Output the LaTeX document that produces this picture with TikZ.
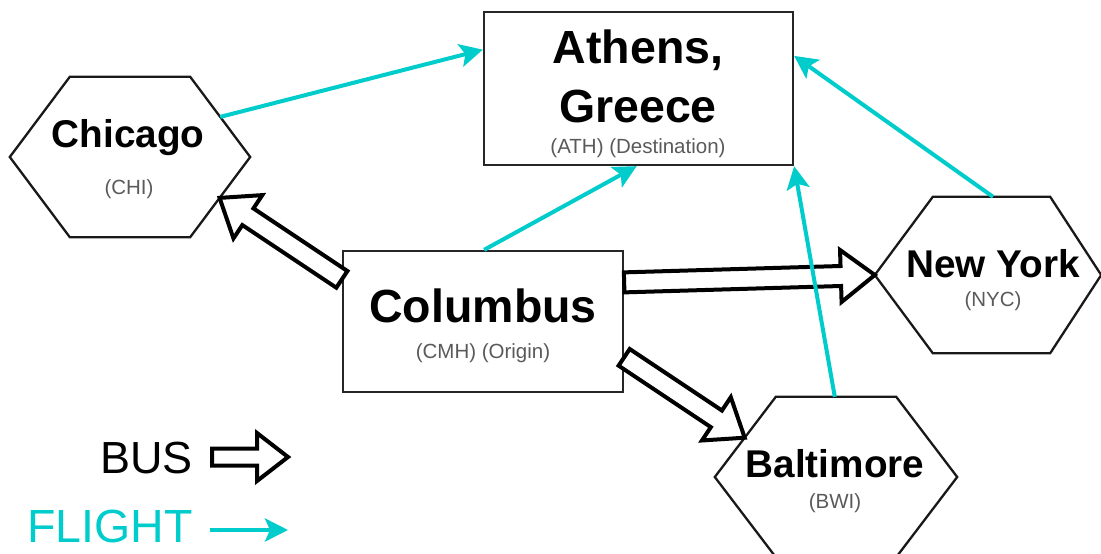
\documentclass[tikz,border=0pt]{standalone}
\usepackage{fontspec}
\setmainfont{Liberation Sans}
\usetikzlibrary{calc,arrows.meta}
\definecolor{flightc}{HTML}{00CCCC}
\definecolor{subgray}{HTML}{5A5A5A}

% hexagon: name, center, width, height, left inset, right inset
\newcommand\hexshape[6]{%
  \node[hexbox, minimum width=#3, minimum height=#4] (#1) at (#2) {};
  \coordinate (#1-nw) at ($(#1.north west)+(#5,0)$);
  \coordinate (#1-ne) at ($(#1.north east)+(-#6,0)$);
  \coordinate (#1-sw) at ($(#1.south west)+(#5,0)$);
  \coordinate (#1-se) at ($(#1.south east)+(-#6,0)$);
  \draw[hexline] (#1.west) -- (#1-nw) -- (#1-ne) -- (#1.east) -- (#1-se) -- (#1-sw) -- cycle;}

% block arrow: from, to, shaft half width, head half width, head length
\newcommand\busarrow[5]{%
  \coordinate (bah) at ($(#2)!#5!(#1)$);
  \path[busline] ($(#1)!#3!90:(#2)$) -- ($(bah)!#3!-90:(#1)$) -- ($(bah)!#4!-90:(#1)$)
    -- (#2) -- ($(bah)!#4!90:(#1)$) -- ($(bah)!#3!90:(#1)$) -- ($(#1)!#3!-90:(#2)$) -- cycle;}

\begin{document}
\begin{tikzpicture}[x=1pt,y=-1pt,
  rectbox/.style={draw=black!85,line width=2.3pt,fill=white,inner sep=0pt},
  hexbox/.style={draw=none,inner sep=0pt},
  hexline/.style={draw=black!90,line width=2.3pt,line join=miter},
  bigtitle/.style={font={\fontsize{46.5}{50}\selectfont\bfseries}, inner sep=0pt, anchor=base},
  hextitle/.style={font={\fontsize{38.7}{42}\selectfont\bfseries}, inner sep=0pt, anchor=base},
  subtext/.style={font={\fontsize{20.5}{24}\selectfont}, text=subgray, inner sep=0pt, anchor=base},
  busline/.style={draw=black, line width=4pt, fill=white, line join=miter},
  flight/.style={draw=flightc, line width=4pt, -{Stealth[length=23pt,width=23pt,inset=5pt]}},
  legend/.style={font={\fontsize{45}{48}\selectfont}, inner sep=0pt, anchor=base east}
]
\useasboundingbox (0,0) rectangle (1101,554);
\clip (0,0) rectangle (1101,554);

% boxes
\node[rectbox, minimum width=309pt, minimum height=153pt] (ath) at (638.5,88.5) {};
\node[rectbox, minimum width=280pt, minimum height=141pt] (col) at (483,321.5) {};
\hexshape{chi}{130,157}{240pt}{160pt}{60}{60}
\hexshape{ny}{988,275}{226pt}{156pt}{58}{51}
\hexshape{bwi}{836,477}{242pt}{160pt}{61}{61}

% texts
\node[bigtitle] (ath-t1) at (638,63) {Athens,};
\node[bigtitle] (ath-t2) at (638,122) {Greece};
\node[subtext] (ath-s) at (638,153) {(ATH) (Destination)};
\node[bigtitle] (col-t) at (483,322) {Columbus};
\node[subtext] (col-s) at (483,358) {(CMH) (Origin)};
\node[hextitle] (chi-t) at (128,147) {Chicago};
\node[subtext] (chi-s) at (129,194) {(CHI)};
\node[hextitle] (ny-t) at (993,277) {New York};
\node[subtext] (ny-s) at (993,306) {(NYC)};
\node[hextitle] (bwi-t) at (835,477) {Baltimore};
\node[subtext] (bwi-s) at (835,508) {(BWI)};

% bus connectors
\coordinate (b1s) at ($(col.north west)!0.206!(col.south west)$);
\coordinate (b1e) at ($(chi.east)!0.51!(chi-se)$);
\busarrow{b1s}{b1e}{10pt}{26pt}{34pt}
\coordinate (b2s) at ($(col.north east)!0.227!(col.south east)$);
\busarrow{b2s}{ny.west}{10pt}{26pt}{34pt}
\coordinate (b3s) at ($(col.north east)!0.75!(col.south east)$);
\coordinate (b3e) at ($(bwi.west)!0.49!(bwi-nw)$);
\busarrow{b3s}{b3e}{10pt}{26pt}{34pt}

% flight connectors
\coordinate (f1s) at ($(chi-ne)!0.5!(chi.east)$);
\coordinate (f1e) at ($(ath.north west)!0.25!(ath.south west)$);
\draw[flight] (f1s) -- (f1e);
\coordinate (f2s) at ($(col.north west)!0.504!(col.north east)$);
\coordinate (f2e) at ($(ath.south west)!0.494!(ath.south east)$);
\draw[flight] (f2s) -- (f2e);
\coordinate (f3s) at ($(ny-nw)!0.513!(ny-ne)$);
\coordinate (f3e) at ($(ath.north east)!0.29!(ath.south east)$);
\draw[flight] (f3s) -- (f3e);
\coordinate (f4s) at ($(bwi-nw)!0.49!(bwi-ne)$);
\draw[flight] (f4s) -- (ath.south east);

% legend
\node[legend] (lbus) at (193,473) {BUS};
\coordinate (lb1) at (212,457);
\coordinate (lb2) at (288,457);
\busarrow{lb1}{lb2}{8.5pt}{24pt}{31pt}
\node[legend, text=flightc, font={\fontsize{46.5}{50}\selectfont}] (lfl) at (193,542) {FLIGHT};
\coordinate (lf1) at (210,530);
\coordinate (lf2) at (288,530);
\draw[flight] (lf1) -- (lf2);
\end{tikzpicture}
\end{document}
